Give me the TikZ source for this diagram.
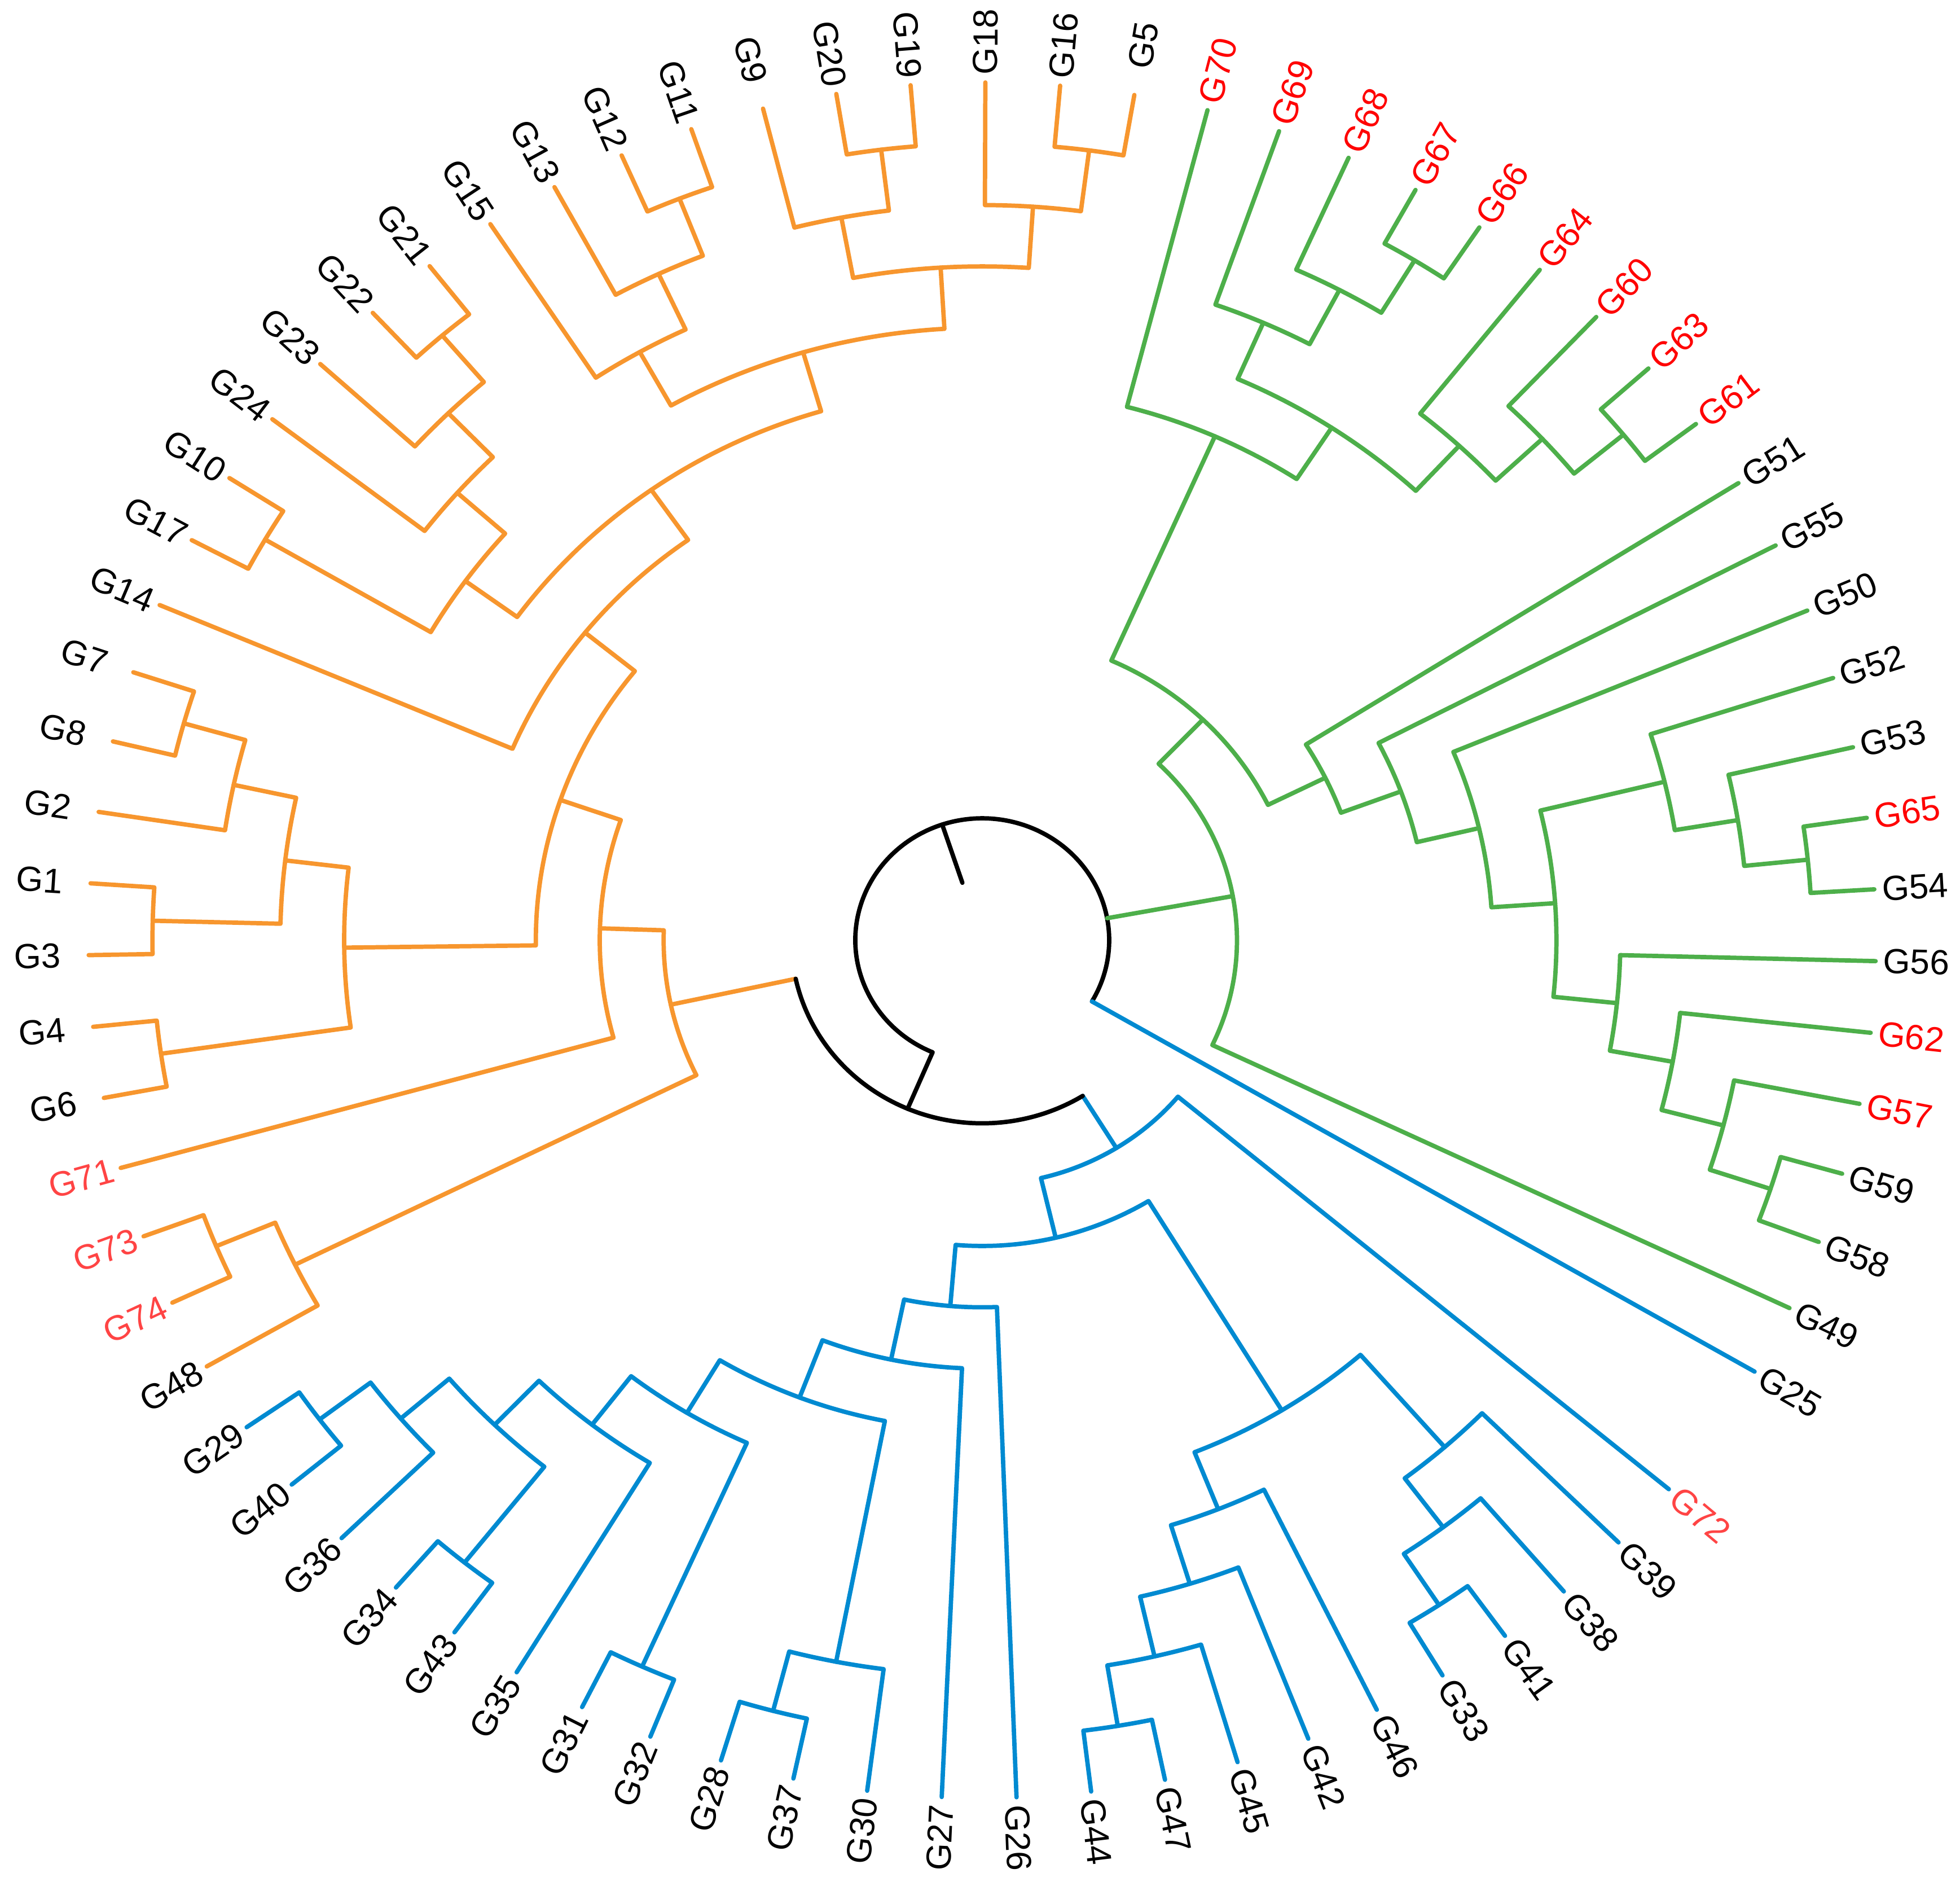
\documentclass[tikz,border=0pt]{standalone}
\usepackage{fontspec}
\setmainfont{Liberation Sans}
\definecolor{orangeclade}{RGB}{247,150,46}
\definecolor{greenclade}{RGB}{77,175,74}
\definecolor{blueclade}{RGB}{0,138,209}
\definecolor{lightred}{RGB}{255,68,68}
\tikzset{
  orng/.style={draw=orangeclade},
  grn/.style={draw=greenclade},
  blu/.style={draw=blueclade},
  blk/.style={draw=black},
  leaf/.style={inner sep=0pt, font=\fontsize{8.8}{10}\selectfont}
}
%%% a tree node: its leaf position and its height
\newcommand{\setnode}[3]{%
  \expandafter\xdef\csname np@#1\endcsname{#2}%
  \coordinate (#1) at ({angl(#2)}:{radl(#3)});}
\newcommand{\nodep}[1]{\csname np@#1\endcsname}
\def\dropG G#1\relax{#1}
%%% name, colour, first child, last child, height
\newcommand{\clade}[5]{%
  \pgfmathsetmacro\cladep{(\nodep{#3}+\nodep{#4})/2}%
  \draw[#2] (#3) -- ({angl(\nodep{#3})}:{radl(#5)})
    arc[start angle={angl(\nodep{#3})}, end angle={angl(\nodep{#4})}, radius={radl(#5)}] -- (#4);
  \setnode{#1}{\cladep}{#5}}
\begin{document}
\begin{tikzpicture}[line width=1.1pt, line cap=round, line join=round,
  declare function={angl(\q)=-39.8-4.8*\q; radl(\q)=7.92-0.56625*\q;}]
\useasboundingbox (-8.705,-8.34) rectangle (8.665,8.33);
\begin{scope}[yscale=0.9596]
%%% leaves, clockwise from G72
\foreach \n/\col [count=\i from 0] in {G72/lightred, G39/black, G38/black, G41/black, G33/black,
  G46/black, G42/black, G45/black, G47/black, G44/black, G26/black, G27/black, G30/black,
  G37/black, G28/black, G32/black, G31/black, G35/black, G43/black, G34/black, G36/black,
  G40/black, G29/black, G48/black, G74/lightred, G73/lightred, G71/lightred, G6/black,
  G4/black, G3/black, G1/black, G2/black, G8/black, G7/black, G14/black, G17/black,
  G10/black, G24/black, G23/black, G22/black, G21/black, G15/black, G13/black, G12/black,
  G11/black, G9/black, G20/black, G19/black, G18/black, G16/black, G5/black, G70/red,
  G69/red, G68/red, G67/red, G66/red, G64/red, G60/red, G63/red, G61/red, G51/black,
  G55/black, G50/black, G52/black, G53/black, G65/red, G54/black, G56/black, G62/red,
  G57/red, G59/black, G58/black, G49/black, G25/black}{
  \setnode{\n}{\i}{0}
  \pgfmathsetmacro\a{angl(\i)}
  \edef\k{\expandafter\dropG\n\relax}
  \def\rl{7.97}
  \ifnum\k<10 \def\rl{8.15}\fi
  \def\anc{west}
  \ifnum\i>10 \ifnum\i<48 \pgfmathsetmacro\a{\a+180}\def\anc{east}\fi\fi
  \node[leaf, text=\col, anchor=\anc, rotate=\a] (L\n) at ({angl(\i)}:\rl) {\n};
}
%%% green clade
\clade{g1}{grn}{G67}{G66}{1}
\clade{g2}{grn}{G68}{g1}{2}
\clade{g3}{grn}{G69}{g2}{3}
\clade{g4}{grn}{G63}{G61}{1}
\clade{g5}{grn}{G60}{g4}{2}
\clade{g6}{grn}{G64}{g5}{3}
\clade{g7}{grn}{g3}{g6}{4}
\clade{g8}{grn}{G70}{g7}{5}
\clade{g9}{grn}{G59}{G58}{1}
\clade{g10}{grn}{G57}{g9}{2}
\clade{g11}{grn}{G62}{g10}{3}
\clade{g12}{grn}{G56}{g11}{4}
\clade{g13}{grn}{G65}{G54}{1}
\clade{g14}{grn}{G53}{g13}{2}
\clade{g15}{grn}{G52}{g14}{3}
\clade{g16}{grn}{g15}{g12}{5}
\clade{g17}{grn}{G50}{g16}{6}
\clade{g18}{grn}{G55}{g17}{7}
\clade{g19}{grn}{G51}{g18}{8}
\clade{g20}{grn}{g8}{g19}{9}
\clade{g21}{grn}{g20}{G49}{10}
%%% blue clade
\clade{b1}{blu}{G41}{G33}{1}
\clade{b2}{blu}{G38}{b1}{2}
\clade{b3}{blu}{G39}{b2}{3}
\clade{b4}{blu}{G47}{G44}{1}
\clade{b5}{blu}{G45}{b4}{2}
\clade{b6}{blu}{G42}{b5}{3}
\clade{b7}{blu}{G46}{b6}{4}
\clade{b8}{blu}{b3}{b7}{5}
\clade{b9}{blu}{G37}{G28}{1}
\clade{b10}{blu}{G30}{b9}{2}
\clade{b11}{blu}{G32}{G31}{1}
\clade{b12}{blu}{G43}{G34}{1}
\clade{b13}{blu}{G40}{G29}{1}
\clade{b14}{blu}{G36}{b13}{2}
\clade{b15}{blu}{b12}{b14}{3}
\clade{b16}{blu}{G35}{b15}{4}
\clade{b17}{blu}{b11}{b16}{5}
\clade{b18}{blu}{b10}{b17}{6}
\clade{b19}{blu}{G27}{b18}{7}
\clade{b20}{blu}{G26}{b19}{8}
\clade{b21}{blu}{b8}{b20}{9}
\clade{b22}{blu}{G72}{b21}{10}
%%% orange clade
\clade{o1}{orng}{G74}{G73}{1}
\clade{o2}{orng}{G48}{o1}{2}
\clade{o3}{orng}{G6}{G4}{1}
\clade{o4}{orng}{G3}{G1}{1}
\clade{o5}{orng}{G8}{G7}{1}
\clade{o6}{orng}{G2}{o5}{2}
\clade{o7}{orng}{o4}{o6}{3}
\clade{o8}{orng}{o3}{o7}{4}
\clade{o9}{orng}{G17}{G10}{1}
\clade{o10}{orng}{G22}{G21}{1}
\clade{o11}{orng}{G23}{o10}{2}
\clade{o12}{orng}{G24}{o11}{3}
\clade{o13}{orng}{o9}{o12}{4}
\clade{o14}{orng}{G12}{G11}{1}
\clade{o15}{orng}{G13}{o14}{2}
\clade{o16}{orng}{G15}{o15}{3}
\clade{o17}{orng}{G20}{G19}{1}
\clade{o18}{orng}{G9}{o17}{2}
\clade{o19}{orng}{G16}{G5}{1}
\clade{o20}{orng}{G18}{o19}{2}
\clade{o21}{orng}{o18}{o20}{3}
\clade{o22}{orng}{o16}{o21}{4}
\clade{o23}{orng}{o13}{o22}{5}
\clade{o24}{orng}{G14}{o23}{6}
\clade{o25}{orng}{o8}{o24}{7}
\clade{o26}{orng}{G71}{o25}{8}
\clade{o27}{orng}{o2}{o26}{9}
%%% orange + blue
\pgfmathsetmacro\posA{(\nodep{b22}+\nodep{o27})/2}
\setnode{A}{\posA}{11}
\draw[blu] (b22) -- ({angl(\nodep{b22})}:{radl(11)});
\draw[orng] (o27) -- ({angl(\nodep{o27})}:{radl(11)});
\draw[blk] ({angl(\nodep{b22})}:{radl(11)})
  arc[start angle={angl(\nodep{b22})}, end angle={angl(\nodep{o27})}, radius={radl(11)}];
%%% root
\pgfmathsetmacro\posR{(\posA+\nodep{G25})/2}
\setnode{root}{\posR}{12}
\draw[blk] (A) -- ({angl(\posA)}:{radl(12)})
  arc[start angle={angl(\posA)}, end angle={angl(\nodep{G25})}, radius={radl(12)}];
\draw[grn] (g21) -- ({angl(\nodep{g21})}:{radl(12)});
\draw[blu] (G25) -- ({angl(\nodep{G25})}:{radl(12)});
\draw[blk] (root) -- ({angl(\posR)}:{radl(13)});
\end{scope}
\end{tikzpicture}
\end{document}
